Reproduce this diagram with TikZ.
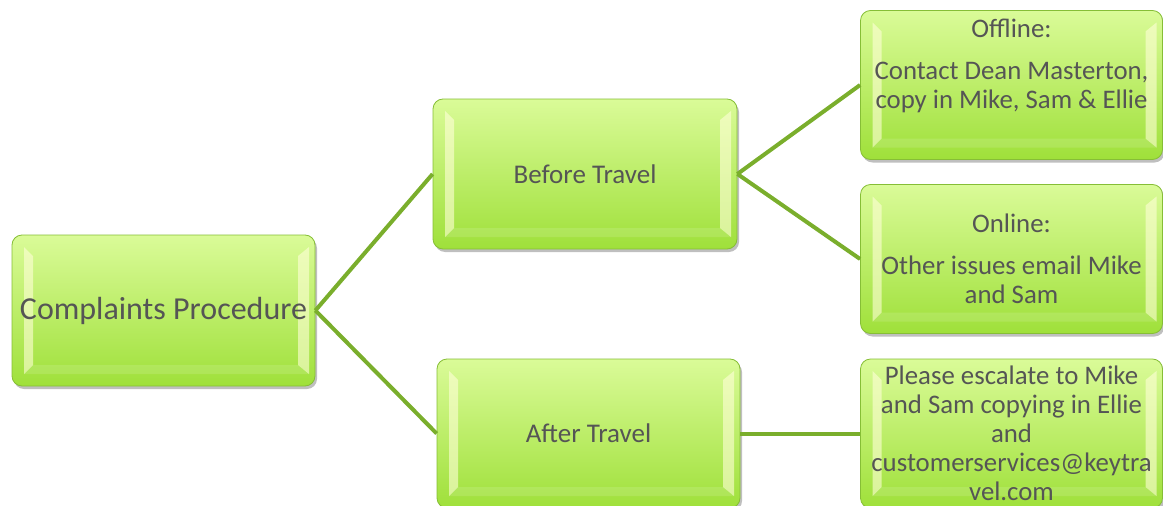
\documentclass[tikz,border=0pt]{standalone}
\usepackage{fontspec}
\setmainfont{Carlito}
\usetikzlibrary{calc,shadows}
\definecolor{txt}{HTML}{555555}
\definecolor{lnk}{HTML}{7AAE2C}
\definecolor{topc}{HTML}{DAFB98}
\definecolor{botc}{HTML}{9FE03A}
\definecolor{edgec}{HTML}{86BE36}
\definecolor{shine}{HTML}{FFFFD8}
\tikzset{
  box/.style={draw=edgec, line width=0.8pt, rounded corners=10pt,
    top color=topc, bottom color=botc,
    minimum width=302pt, minimum height=149pt, inner sep=0pt,
    text=txt, align=center, font=\fontsize{26.8}{29}\selectfont,
    drop shadow={shadow xshift=2pt, shadow yshift=-3pt, opacity=0.25, fill=black},
    path picture={
      \fill[sharp corners, shine, opacity=0.6]
        ($(path picture bounding box.south west)+(12pt,12pt)$) --
        ($(path picture bounding box.north west)+(12pt,-12pt)$) --
        ($(path picture bounding box.north west)+(21pt,-21pt)$) --
        ($(path picture bounding box.south west)+(21pt,21pt)$) -- cycle;
      \fill[sharp corners, shine, opacity=0.6]
        ($(path picture bounding box.south east)+(-6pt,12pt)$) --
        ($(path picture bounding box.north east)+(-6pt,-12pt)$) --
        ($(path picture bounding box.north east)+(-17pt,-21pt)$) --
        ($(path picture bounding box.south east)+(-17pt,21pt)$) -- cycle;
      \fill[sharp corners, white, opacity=0.12]
        ($(path picture bounding box.south west)+(12pt,12pt)$) --
        ($(path picture bounding box.south east)+(-6pt,12pt)$) --
        ($(path picture bounding box.south east)+(-17pt,21pt)$) --
        ($(path picture bounding box.south west)+(21pt,21pt)$) -- cycle;
    }},
  big/.style={font=\fontsize{32}{38}\selectfont},
  mid/.style={font=\fontsize{27}{32}\selectfont},
  boxtext/.style={text=txt, align=center, font=\fontsize{26.8}{29}\selectfont, inner sep=0pt},
  link/.style={draw=lnk, line width=4pt}
}
\begin{document}
\begin{tikzpicture}[x=1pt,y=-1pt]
\useasboundingbox (0,0) rectangle (1163,506);
\node[box, big, minimum width=303pt, minimum height=151pt] (cp) at (163.5,310.5) {Complaints Procedure};
\node[box, mid, minimum width=304pt, minimum height=150pt] (bt) at (585,174) {Before Travel};
\node[box, mid, minimum width=303pt, minimum height=149pt] (at) at (588.5,433.5) {After Travel};
\node[box] (off) at (1011.5,85) {};
\node[boxtext] (offT) at (1011.5,66) {Offline:\\[13pt]Contact Dean Masterton,\\copy in Mike, Sam \& Ellie};
\node[box] (on) at (1011.5,259) {Online:\\[13pt]Other issues email Mike\\and Sam};
\node[box] (esc) at (1011.5,433.5) {Please escalate to Mike\\and Sam copying in Ellie\\and\\customerservices@keytra\\vel.com};
\draw[link] (cp.east) -- (bt.west);
\draw[link] (cp.east) -- (at.west);
\draw[link] (bt.east) -- (off.west);
\draw[link] (bt.east) -- (on.west);
\draw[link] (at.east) -- (esc.west);
\end{tikzpicture}
\end{document}
